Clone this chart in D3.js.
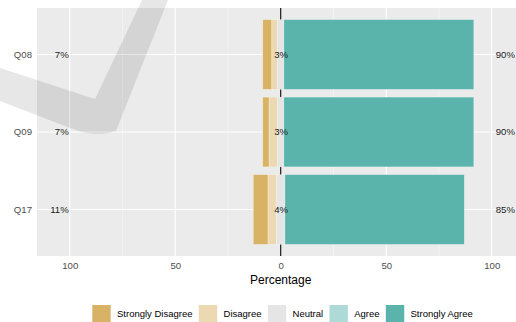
<!DOCTYPE html>
<html><head><meta charset="utf-8">
<script src="https://cdn.jsdelivr.net/npm/d3@7"></script>
<style>
html,body{margin:0;padding:0;background:#fff;}
svg text{font-family:"Liberation Sans", Arial, sans-serif;}
</style></head>
<body><svg id="chart" width="516" height="322"></svg>
<script>
const items = ["Q08", "Q09", "Q17"];
const levels = ["Strongly Disagree", "Disagree", "Neutral", "Agree", "Strongly Agree"];
const stronglyDisagree = [4.3, 3.0, 7.0];
const disagree = [2.7, 4.0, 4.0];
const neutral = [3.0, 3.0, 4.0];
const agree = [0.0, 0.0, 0.0];
const stronglyAgree = [90.0, 90.0, 85.0];
const lowLabels = ["7%", "7%", "11%"];
const neutralLabels = ["3%", "3%", "4%"];
const highLabels = ["90%", "90%", "85%"];
const xTicks = [-100, -50, 0, 50, 100];
const xMinorTicks = [-75, -25, 25, 75];
const colors = ["#D8B365", "#ECD9B2", "#E5E5E5", "#ADDAD6", "#5AB4AC"];

const svg = d3.select("#chart");
const P = {left: 37, right: 516, top: 8, bottom: 256};

const x = d3.scaleLinear().domain([-115.5, 111.5]).range([P.left, P.right]);
const y = d3.scaleBand().domain(items).range([P.top, P.bottom]).paddingInner(0.1).paddingOuter(0.15);
const color = d3.scaleOrdinal().domain(levels).range(colors);

// panel
svg.append("rect").attr("x", P.left).attr("y", P.top)
  .attr("width", P.right - P.left).attr("height", P.bottom - P.top).attr("fill", "#EBEBEB");

// grid
svg.selectAll(".minor").data(xMinorTicks).enter().append("line")
  .attr("x1", d => x(d)).attr("x2", d => x(d)).attr("y1", P.top).attr("y2", P.bottom)
  .attr("stroke", "#F6F6F6").attr("stroke-width", 0.6);
svg.selectAll(".major").data(xTicks).enter().append("line")
  .attr("x1", d => x(d)).attr("x2", d => x(d)).attr("y1", P.top).attr("y2", P.bottom)
  .attr("stroke", "#FFFFFF").attr("stroke-width", 1.1);
svg.selectAll(".hgrid").data(items).enter().append("line")
  .attr("x1", P.left).attr("x2", P.right)
  .attr("y1", d => y(d) + y.bandwidth() / 2).attr("y2", d => y(d) + y.bandwidth() / 2)
  .attr("stroke", "#FFFFFF").attr("stroke-width", 1.1);

// center line
svg.append("line").attr("x1", x(0)).attr("x2", x(0)).attr("y1", P.top).attr("y2", P.bottom)
  .attr("stroke", "#000").attr("stroke-width", 1.1);

// bars
const series = [stronglyDisagree, disagree, neutral, agree, stronglyAgree];
const segs = [];
items.forEach((it, i) => {
  const sd = series[0][i], di = series[1][i], ne = series[2][i], ag = series[3][i], sa = series[4][i];
  let start = -ne / 2 - di - sd;
  const vals = [sd, di, ne, ag, sa];
  vals.forEach((v, k) => {
    segs.push({item: it, level: levels[k], x0: start, x1: start + v});
    start += v;
  });
});
svg.selectAll(".bar").data(segs.filter(d => d.x1 > d.x0)).enter().append("rect")
  .attr("x", d => x(d.x0)).attr("width", d => x(d.x1) - x(d.x0))
  .attr("y", d => y(d.item)).attr("height", y.bandwidth())
  .attr("fill", d => color(d.level))
  .attr("stroke", "#FFFFFF").attr("stroke-opacity", 0.45).attr("stroke-width", 0.6);

// value labels
const cy = d => y(d) + y.bandwidth() / 2;
const lab = svg.append("g").attr("font-size", "9.6px").attr("fill", "#1a1a1a");
lab.selectAll(".low").data(items).enter().append("text")
  .attr("x", x(-100) - 1).attr("y", d => cy(d)).attr("dy", "0.35em")
  .attr("text-anchor", "end").text((d, i) => lowLabels[i]);
lab.selectAll(".mid").data(items).enter().append("text")
  .attr("x", x(0) + 0.4).attr("y", d => cy(d)).attr("dy", "0.35em")
  .attr("text-anchor", "middle").text((d, i) => neutralLabels[i]);
lab.selectAll(".high").data(items).enter().append("text")
  .attr("x", x(100) + 4).attr("y", d => cy(d)).attr("dy", "0.35em")
  .attr("text-anchor", "start").text((d, i) => highLabels[i]);

// y axis labels
const yAxis = svg.append("g").attr("transform", `translate(${P.left},0)`)
  .call(d3.axisLeft(y).tickSize(0).tickPadding(5));
yAxis.select(".domain").remove();
yAxis.selectAll("text").attr("font-size", "9.6px").attr("fill", "#4D4D4D").attr("font-family", null);

// x axis
const xAxis = svg.append("g").attr("transform", `translate(0,${P.bottom})`)
  .call(d3.axisBottom(x).tickValues(xTicks).tickFormat(d => Math.abs(d)).tickSize(0).tickPadding(6.5));
xAxis.select(".domain").remove();
xAxis.selectAll("text").attr("font-size", "9.6px").attr("fill", "#4D4D4D").attr("font-family", null);

// axis title
svg.append("text").attr("x", x(0)).attr("y", 283.5).attr("text-anchor", "middle")
  .attr("font-size", "12px").attr("fill", "#000").text("Percentage");

// legend
const lg = svg.append("g");
let lx = 92.3;
levels.forEach((lv, k) => {
  lg.append("rect").attr("x", lx).attr("y", 305).attr("width", 18.4).attr("height", 18.4)
    .attr("fill", color(lv));
  const t = lg.append("text").attr("x", lx + 18.4 + 6.3).attr("y", 317.4)
    .attr("font-size", "9.5px").attr("fill", "#000").text(lv);
  lx = lx + 18.4 + 6.3 + t.node().getComputedTextLength() + 6.3;
});

// watermark
svg.append("path")
  .attr("d", "M0,68 L95,99 L142,0 L168,0 L116,131 C100,136 85,134 70,128 L0,101 Z")
  .attr("fill", "#000").attr("fill-opacity", 0.095);
</script></body></html>
